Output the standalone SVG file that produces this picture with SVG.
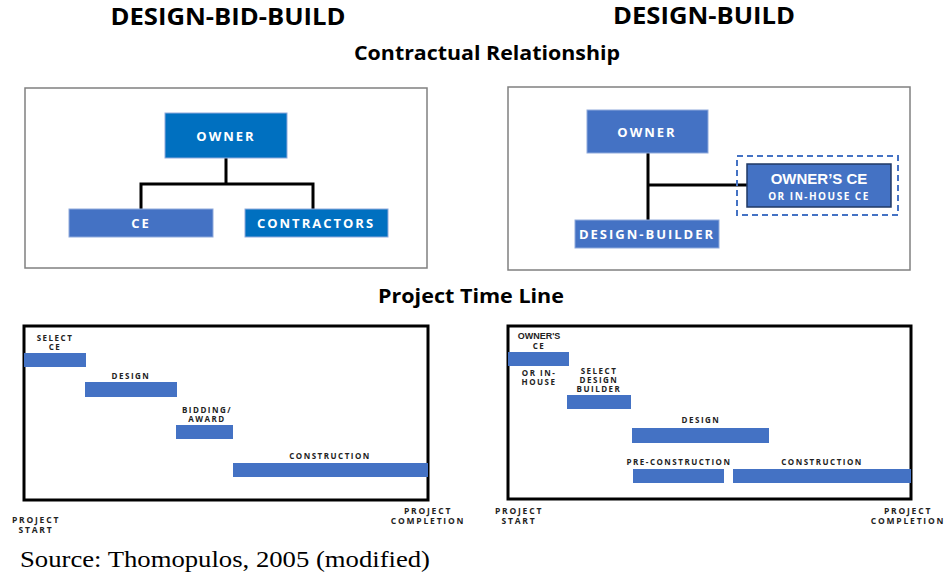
<svg xmlns="http://www.w3.org/2000/svg" width="948" height="572" viewBox="0 0 948 572">
<style>
.h1{font-family:"Open Sans","Liberation Sans",sans-serif;font-weight:bold;font-size:23px;fill:#000;text-anchor:middle}
.h2{font-family:"Open Sans","Liberation Sans",sans-serif;font-weight:bold;font-size:19px;fill:#000;text-anchor:middle}
.frame{fill:#fff;stroke:#808080;stroke-width:1.5}
.tl{fill:#fff;stroke:#000;stroke-width:3}
.nb{fill:#4472C4;stroke:#8FAADC;stroke-width:1}
.nd{fill:#0070C0;stroke:#8FAADC;stroke-width:1}
.nt{font-family:"Open Sans","Liberation Sans",sans-serif;font-weight:bold;font-size:13px;fill:#fff;text-anchor:middle;letter-spacing:2px}
.bar{fill:#4472C4}
.lb{font-family:"Open Sans","Liberation Sans",sans-serif;font-weight:bold;font-size:8px;fill:#222;text-anchor:middle;letter-spacing:1.5px}
.ax{font-family:"Open Sans","Liberation Sans",sans-serif;font-weight:bold;font-size:8.5px;fill:#222;text-anchor:middle;letter-spacing:1.8px}
.ln{fill:none;stroke:#000;stroke-width:3}
</style>
<rect width="948" height="572" fill="#fff"/>
<g id="titles">
<text class="h1" x="228" y="25" textLength="235" lengthAdjust="spacingAndGlyphs">DESIGN-BID-BUILD</text>
<text class="h1" x="704" y="24" textLength="182" lengthAdjust="spacingAndGlyphs">DESIGN-BUILD</text>
<text class="h2" x="487" y="60" textLength="266" lengthAdjust="spacingAndGlyphs">Contractual Relationship</text>
<text class="h2" x="471" y="303" textLength="186" lengthAdjust="spacingAndGlyphs">Project Time Line</text>
</g>
<rect class="frame" x="25" y="88" width="402" height="180"/>
<rect class="frame" x="508" y="87" width="402" height="183"/>
<g id="connectors">
<path class="ln" d="M226 158V184M141 209V184H313V209"/>
<path class="ln" d="M648 153V220M648 185H747"/>
</g>
<g id="dbb-owner"><rect class="nd" x="165" y="113" width="122" height="45"/><text class="nt" x="226" y="141">OWNER</text></g>
<g id="dbb-ce"><rect class="nb" x="69" y="209" width="144" height="28"/><text class="nt" x="141" y="228">CE</text></g>
<g id="dbb-contractors"><rect class="nd" x="245" y="209" width="143" height="28"/><text class="nt" x="316" y="228">CONTRACTORS</text></g>
<g id="db-owner"><rect class="nb" x="587" y="110" width="121" height="43"/><text class="nt" x="647" y="137">OWNER</text></g>
<g id="db-designbuilder"><rect class="nb" x="575" y="220" width="144" height="28"/><text class="nt" x="647" y="239">DESIGN-BUILDER</text></g>
<g id="db-ownersce">
<rect x="737" y="156" width="161" height="59" fill="none" stroke="#4472C4" stroke-width="2" stroke-dasharray="6,4"/>
<rect x="747" y="164" width="144" height="43" fill="#4472C4" stroke="#1F3864" stroke-width="1.5"/>
<text x="819" y="184" font-family="Liberation Sans,Arial,sans-serif" font-weight="bold" font-size="15" fill="#fff" text-anchor="middle">OWNER’S CE</text>
<text x="819" y="200" font-family="Open Sans,Liberation Sans,sans-serif" font-weight="bold" font-size="10" fill="#fff" text-anchor="middle" letter-spacing="1.5">OR IN-HOUSE CE</text>
</g>
<g id="dbb-timeline">
<rect class="tl" x="24" y="326" width="404" height="174"/>
<rect class="bar" x="24" y="353" width="62" height="14"/>
<rect class="bar" x="85" y="382" width="92" height="15"/>
<rect class="bar" x="176" y="425" width="57" height="14"/>
<rect class="bar" x="233" y="463" width="195" height="14"/>
<text class="lb" x="55" y="341">SELECT</text>
<text class="lb" x="55" y="350">CE</text>
<text class="lb" x="131" y="379">DESIGN</text>
<text class="lb" x="207" y="413">BIDDING/</text>
<text class="lb" x="207" y="422">AWARD</text>
<text class="lb" x="330" y="459">CONSTRUCTION</text>
<text class="ax" x="36" y="523">PROJECT</text>
<text class="ax" x="36" y="533">START</text>
<text class="ax" x="428" y="514">PROJECT</text>
<text class="ax" x="428" y="524">COMPLETION</text>
</g>
<g id="db-timeline">
<rect class="tl" x="508" y="326" width="403" height="173"/>
<rect class="bar" x="508" y="352" width="61" height="14"/>
<rect class="bar" x="567" y="395" width="64" height="14"/>
<rect class="bar" x="632" y="428" width="137" height="15"/>
<rect class="bar" x="633" y="469" width="91" height="14"/>
<rect class="bar" x="733" y="469" width="178" height="14"/>
<text x="539" y="339" font-family="Liberation Sans,Arial,sans-serif" font-weight="bold" font-size="9" fill="#222" text-anchor="middle">OWNER'S</text>
<text class="lb" x="539" y="349">CE</text>
<text class="lb" x="539" y="376">OR IN-</text>
<text class="lb" x="539" y="385">HOUSE</text>
<text class="lb" x="599" y="374">SELECT</text>
<text class="lb" x="599" y="383">DESIGN</text>
<text class="lb" x="599" y="392">BUILDER</text>
<text class="lb" x="701" y="423">DESIGN</text>
<text class="lb" x="679" y="465">PRE-CONSTRUCTION</text>
<text class="lb" x="822" y="465">CONSTRUCTION</text>
<text class="ax" x="519" y="514">PROJECT</text>
<text class="ax" x="519" y="524">START</text>
<text class="ax" x="908" y="514">PROJECT</text>
<text class="ax" x="908" y="524">COMPLETION</text>
</g>
<text x="20" y="567" font-family="Liberation Serif,serif" font-size="23" fill="#000" textLength="410" lengthAdjust="spacingAndGlyphs">Source: Thomopulos, 2005 (modified)</text>
</svg>
